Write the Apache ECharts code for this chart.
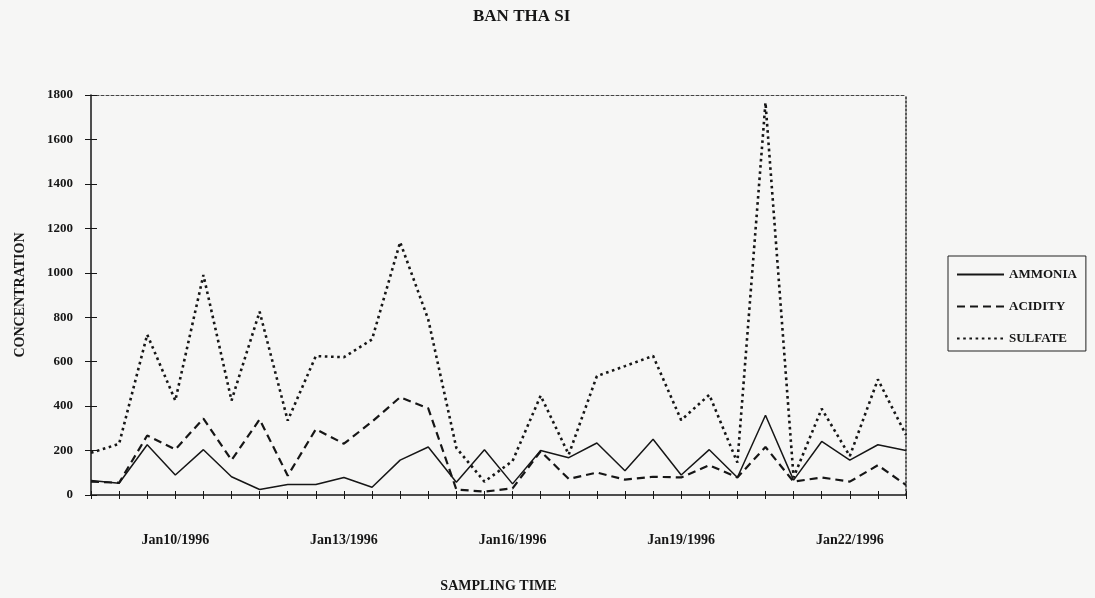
<!DOCTYPE html>
<html>
<head>
<meta charset="utf-8">
<script src="https://cdn.jsdelivr.net/npm/echarts@6/dist/echarts.min.js"></script>
<style>
  html, body { margin: 0; padding: 0; background: #f6f6f5; }
  #chart { width: 1095px; height: 598px; }
</style>
</head>
<body>
<div id="chart"></div>
<script>
// Sample numbers (two samples per day)
const samples = ['1','2','3','4','5','6','7','8','9','10','11','12','13','14','15',
                 '16','17','18','19','20','21','22','23','24','25','26','27','28','29','30'];

// Date labels and the sample they sit under
const dateLabels = ['Jan10/1996', 'Jan13/1996', 'Jan16/1996', 'Jan19/1996', 'Jan22/1996'];
const dateLabelSamples = [3, 9, 15, 21, 27];

// Concentration values per sample
const ammonia = [65, 53, 226, 90, 204, 82, 25, 47, 47, 79, 35, 157, 216, 57, 204,
                 50, 200, 168, 234, 109, 251, 90, 204, 79, 359, 67, 241, 157, 226, 200];
const acidity = [60, 55, 268, 205, 344, 157, 340, 87, 296, 231, 330, 440, 390, 25, 15,
                 30, 197, 72, 101, 69, 82, 79, 134, 79, 216, 60, 79, 60, 134, 45];
const sulfate = [190, 230, 722, 425, 990, 425, 825, 335, 625, 620, 700, 1138, 790, 212, 60,
                 153, 447, 182, 535, 580, 626, 337, 451, 146, 1766, 79, 388, 175, 520, 270];

// Y axis ticks
const yMin = 0, yMax = 1800, yStep = 200;

const serif = 'Liberation Serif, Times New Roman, serif';
const ink = '#161616';

const chart = echarts.init(document.getElementById('chart'), null, { renderer: 'canvas' });

const labelFor = (idx) => {
  const k = dateLabelSamples.indexOf(idx);
  return k >= 0 ? dateLabels[k] : '';
};

chart.setOption({
  backgroundColor: '#f6f6f5',
  animation: false,
  graphic: [{
    type: 'text',
    left: 473,
    top: 8,
    style: { text: 'BAN THA SI', font: 'bold 17px ' + serif, fill: ink }
  }],
  grid: { left: 91, right: 189, top: 95, bottom: 95, containLabel: false },
  legend: {
    orient: 'vertical',
    left: 948,
    top: 256,
    padding: [12, 9, 6, 8],
    itemWidth: 47,
    itemHeight: 14,
    itemGap: 19,
    borderColor: '#222',
    borderWidth: 1,
    itemStyle: { color: 'rgba(0,0,0,0)', borderColor: 'rgba(0,0,0,0)', borderWidth: 0, opacity: 0 },
    textStyle: { fontFamily: serif, fontWeight: 'bold', fontSize: 13, color: ink },
    data: ['AMMONIA', 'ACIDITY', 'SULFATE']
  },
  xAxis: [
    {
      type: 'category',
      data: samples,
      boundaryGap: false,
      position: 'bottom',
      name: 'SAMPLING TIME',
      nameLocation: 'middle',
      nameGap: 84,
      nameTextStyle: { fontFamily: serif, fontWeight: 'bold', fontSize: 14, color: ink },
      axisLine: { onZero: false, lineStyle: { color: ink, width: 1.5 } },
      axisTick: { show: true, inside: false, length: 4, interval: 0, lineStyle: { color: ink, width: 1 } },
      axisLabel: {
        interval: 0,
        margin: 38,
        fontFamily: serif,
        fontWeight: 'bold',
        fontSize: 14,
        color: ink,
        formatter: (value, idx) => labelFor(idx)
      },
      splitLine: { show: false }
    },
    {
      type: 'category',
      data: samples,
      boundaryGap: false,
      position: 'bottom',
      axisLine: { show: false, onZero: false },
      axisTick: { show: true, inside: true, length: 4, interval: 0, lineStyle: { color: ink, width: 1 } },
      axisLabel: { show: false },
      splitLine: { show: false }
    },
    {
      type: 'category',
      data: samples,
      boundaryGap: false,
      position: 'top',
      axisLine: { show: true, onZero: false, lineStyle: { color: '#444', width: 1, type: [3, 2] } },
      axisTick: { show: false },
      axisLabel: { show: false },
      splitLine: { show: false }
    }
  ],
  yAxis: [
    {
      type: 'value',
      min: yMin,
      max: yMax,
      interval: yStep,
      position: 'left',
      name: 'CONCENTRATION',
      nameLocation: 'middle',
      nameRotate: 90,
      nameGap: 64,
      nameTextStyle: { fontFamily: serif, fontWeight: 'bold', fontSize: 14, color: ink },
      axisLine: { show: true, onZero: false, lineStyle: { color: ink, width: 1.5 } },
      axisTick: { show: true, inside: false, length: 6, lineStyle: { color: ink, width: 1 } },
      axisLabel: {
        margin: 18,
        fontFamily: serif,
        fontWeight: 'bold',
        fontSize: 13,
        color: ink,
        formatter: (v) => String(v)
      },
      splitLine: { show: false }
    },
    {
      type: 'value',
      min: yMin,
      max: yMax,
      interval: yStep,
      position: 'left',
      axisLine: { show: false, onZero: false },
      axisTick: { show: true, inside: true, length: 6, lineStyle: { color: ink, width: 1 } },
      axisLabel: { show: false },
      splitLine: { show: false }
    },
    {
      type: 'value',
      min: yMin,
      max: yMax,
      interval: yStep,
      position: 'right',
      axisLine: { show: true, onZero: false, lineStyle: { color: '#333', width: 1.6, type: [2, 2] } },
      axisTick: { show: false },
      axisLabel: { show: false },
      splitLine: { show: false }
    }
  ],
  series: [
    {
      name: 'AMMONIA',
      type: 'line',
      data: ammonia,
      symbol: 'none',
      color: ink,
      lineStyle: { color: ink, width: 1.5, type: 'solid' }
    },
    {
      name: 'ACIDITY',
      type: 'line',
      data: acidity,
      symbol: 'none',
      color: ink,
      lineStyle: { color: ink, width: 2.2, type: [8, 5] }
    },
    {
      name: 'SULFATE',
      type: 'line',
      data: sulfate,
      symbol: 'none',
      color: ink,
      lineStyle: { color: ink, width: 2.6, type: [2.6, 3.6] }
    }
  ]
});
</script>
</body>
</html>
